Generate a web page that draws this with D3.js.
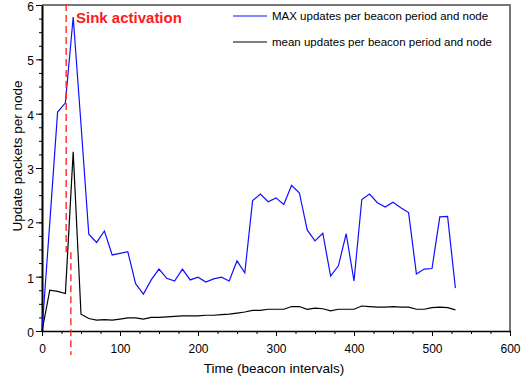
<!DOCTYPE html>
<html>
<head>
<meta charset="utf-8">
<script src="https://cdn.jsdelivr.net/npm/d3@7"></script>
<style>
  html, body { margin: 0; padding: 0; background: #fff; }
  svg { display: block; font-family: "Liberation Sans", Arial, sans-serif; }
</style>
</head>
<body>
<svg id="chart" width="523" height="383"></svg>
<script>
// Time in beacon intervals
const times = [0, 10, 20, 30, 40, 50, 60, 70, 80, 90, 100, 110, 120, 130, 140, 150, 160, 170, 180, 190,
  200, 210, 220, 230, 240, 250, 260, 270, 280, 290, 300, 310, 320, 330, 340, 350, 360, 370, 380, 390,
  400, 410, 420, 430, 440, 450, 460, 470, 480, 490, 500, 510, 520, 530];

// Maximum updates per beacon period and node
const maxUpdates = [0, 2.0, 4.03, 4.2, 5.78, 3.8, 1.78, 1.63, 1.84, 1.40, 1.43, 1.46, 0.87, 0.68, 0.94, 1.14, 0.97, 0.92, 1.14, 0.94,
  0.99, 0.90, 0.96, 0.99, 0.92, 1.29, 1.07, 2.40, 2.52, 2.38, 2.45, 2.33, 2.68, 2.54, 1.86, 1.66, 1.80, 1.01, 1.20, 1.79,
  0.92, 2.42, 2.52, 2.36, 2.28, 2.37, 2.27, 2.18, 1.05, 1.14, 1.15, 2.10, 2.11, 0.79];

// Mean updates per beacon period and node
const meanUpdates = [0, 0.75, 0.73, 0.69, 3.30, 0.31, 0.23, 0.20, 0.21, 0.20, 0.22, 0.24, 0.24, 0.22, 0.25, 0.25, 0.26, 0.27, 0.28, 0.28,
  0.28, 0.29, 0.29, 0.30, 0.31, 0.33, 0.35, 0.38, 0.38, 0.40, 0.40, 0.40, 0.45, 0.45, 0.40, 0.42, 0.41, 0.37, 0.40, 0.40,
  0.40, 0.46, 0.45, 0.44, 0.44, 0.45, 0.44, 0.44, 0.40, 0.40, 0.43, 0.44, 0.43, 0.39];

const xTicks = [0, 100, 200, 300, 400, 500, 600];
const yTicks = [0, 1, 2, 3, 4, 5, 6];

// Sink activation marker (beacon intervals), with a small step in the marker line
const sinkUpper = 31, sinkLower = 37, sinkStepY = 1.46;

const legendLabels = ["MAX updates per beacon period and node", "mean updates per beacon period and node"];
const seriesColors = ["#1010ff", "#000000"];

const svg = d3.select("#chart");
const plotLeft = 42, plotRight = 510, plotTop = 5, plotBottom = 331;
const fontFamily = "Liberation Sans, Arial, sans-serif";

const x = d3.scaleLinear().domain([0, 600]).range([plotLeft, plotRight]);
const y = d3.scaleLinear().domain([0, 6]).range([plotBottom, plotTop]);

// Frame: grey top and right edges
svg.append("path")
  .attr("d", `M${plotLeft},${plotTop}H${plotRight}V${plotBottom}`)
  .attr("fill", "none").attr("stroke", "#777").attr("stroke-width", 2);

// Minor ticks
const xAxisMinor = d3.axisBottom(x).tickValues(d3.range(0, 601, 25)).tickSize(3).tickFormat("");
const yAxisMinor = d3.axisLeft(y).tickValues(d3.range(0, 6.01, 0.25)).tickSize(3).tickFormat("");
svg.append("g").attr("transform", `translate(0,${plotBottom})`).call(xAxisMinor)
  .call(g => g.select(".domain").remove());
svg.append("g").attr("transform", `translate(${plotLeft},0)`).call(yAxisMinor)
  .call(g => g.select(".domain").remove());

// Major ticks and labels
const xAxis = d3.axisBottom(x).tickValues(xTicks).tickFormat(d3.format("d"))
  .tickSize(5).tickPadding(8).tickSizeOuter(0);
const yAxis = d3.axisLeft(y).tickValues(yTicks).tickFormat(d3.format("d"))
  .tickSize(6).tickPadding(2).tickSizeOuter(0);

const gx = svg.append("g").attr("transform", `translate(0,${plotBottom})`).call(xAxis);
gx.selectAll("text").attr("font-size", 12).attr("fill", "#000").attr("font-family", fontFamily);
gx.select(".domain").attr("stroke-width", 1.5);

const gy = svg.append("g").attr("transform", `translate(${plotLeft},0)`).call(yAxis);
gy.selectAll("text").attr("font-size", 12).attr("fill", "#000").attr("font-family", fontFamily)
  .attr("dy", "0.45em");
gy.select(".domain").attr("stroke-width", 2);

// Axis titles
svg.append("text")
  .attr("x", 274).attr("y", 373)
  .attr("text-anchor", "middle").attr("font-size", 13.5)
  .text("Time (beacon intervals)");
svg.append("text")
  .attr("transform", "translate(22,156) rotate(-90)")
  .attr("text-anchor", "middle").attr("font-size", 13.5)
  .text("Update packets per node");

// Series lines
const line = d3.line().x((d, i) => x(times[i])).y(d => y(d));
svg.append("path").datum(maxUpdates)
  .attr("d", line).attr("fill", "none")
  .attr("stroke", seriesColors[0]).attr("stroke-width", 1.2);
svg.append("path").datum(meanUpdates)
  .attr("d", line).attr("fill", "none")
  .attr("stroke", seriesColors[1]).attr("stroke-width", 1.2);

// Sink activation marker
svg.append("path")
  .attr("d", `M${x(sinkUpper)},${plotTop - 1}V${y(sinkStepY)}H${x(sinkLower)}V${plotBottom + 24}`)
  .attr("fill", "none").attr("stroke", "#ff2a2a").attr("stroke-width", 1.4)
  .attr("stroke-dasharray", "7,4");
svg.append("text")
  .attr("x", 76).attr("y", 23)
  .attr("fill", "#ff1a1a").attr("font-weight", "bold").attr("font-size", 15)
  .text("Sink activation");

// Legend
const legend = svg.append("g");
legendLabels.forEach((label, i) => {
  const ly = 16 + i * 26;
  legend.append("line").attr("x1", 233).attr("x2", 267).attr("y1", ly).attr("y2", ly)
    .attr("stroke", seriesColors[i]).attr("stroke-width", 1.2);
  legend.append("text").attr("x", 272).attr("y", ly + 4)
    .attr("font-size", 11.5).text(label);
});
</script>
</body>
</html>
